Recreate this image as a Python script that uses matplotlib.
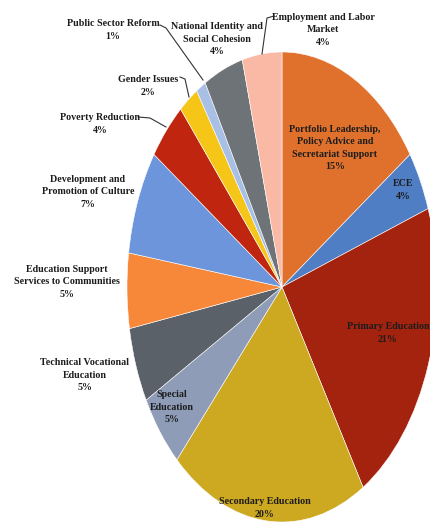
import matplotlib
matplotlib.use("Agg")
import matplotlib.pyplot as plt
from matplotlib.lines import Line2D

# Budget share by programme, clockwise from 12 o'clock
programmes = [
    "Portfolio Leadership,\nPolicy Advice and\nSecretariat Support",
    "ECE",
    "Primary Education",
    "Secondary Education",
    "Special\nEducation",
    "Technical Vocational\nEducation",
    "Education Support\nServices to Communities",
    "Development and\nPromotion of Culture",
    "Poverty Reduction",
    "Gender Issues",
    "Public Sector Reform",
    "National Identity and\nSocial Cohesion",
    "Employment and Labor\nMarket",
]
shares = [15, 4, 21, 20, 5, 5, 5, 7, 4, 2, 1, 4, 4]
colors = [
    "#E0712C", "#4F7EC4", "#A3230E", "#CDA821", "#8E9CB8", "#5A6169",
    "#F7883A", "#6C95DC", "#C0260F", "#F5C518", "#A9C0E6", "#6E7378",
    "#F9B9A4",
]

W, H = 431, 531
fig = plt.figure(figsize=(W / 100, H / 100), dpi=100)
fig.patch.set_facecolor("white")

# Pie is drawn stretched into an ellipse (centre 282,287 px; radii 155 x 235 px)
cx, cy, rx, ry = 282, 287, 155, 235
ax = fig.add_axes([(cx - rx) / W, 1 - (cy + ry) / H, 2 * rx / W, 2 * ry / H])
ax.pie(shares, colors=colors, startangle=90, counterclock=False,
       wedgeprops=dict(edgecolor="white", linewidth=0.4))
ax.set_aspect("auto")
ax.set_xlim(-1, 1)
ax.set_ylim(-1, 1)
ax.axis("off")

# Label anchor points in pixels (centre of each text block)
label_pos = [
    (335, 148), (403, 190), (388, 333), (265, 508), (172, 407),
    (85, 375), (67, 282), (88, 192), (100, 124), (148, 86),
    (113, 30), (217, 39), (323, 30),
]

text_kw = dict(family="Liberation Serif", fontsize=7.2, fontweight="bold",
               color="#1c1c1c", ha="center", va="center", linespacing=1.45)
for name, val, (px, py) in zip(programmes, shares, label_pos):
    fig.text(px / W, 1 - py / H, f"{name}\n{val}%", **text_kw)

# Leader lines from outside labels to their slices (pixel paths)
leaders = [
    [(160, 25), (166, 28), (203, 80)],      # Public Sector Reform
    [(180, 77), (185, 79), (189, 97)],      # Gender Issues
    [(138, 117), (150, 118), (166, 127)],   # Poverty Reduction
    [(262, 54), (267, 18), (274, 16)],      # Employment and Labor Market
]
for path in leaders:
    xs = [p[0] / W for p in path]
    ys = [1 - p[1] / H for p in path]
    fig.add_artist(Line2D(xs, ys, transform=fig.transFigure,
                          color="#333333", linewidth=0.8))

fig.savefig("out.png", dpi=100, facecolor="white")
